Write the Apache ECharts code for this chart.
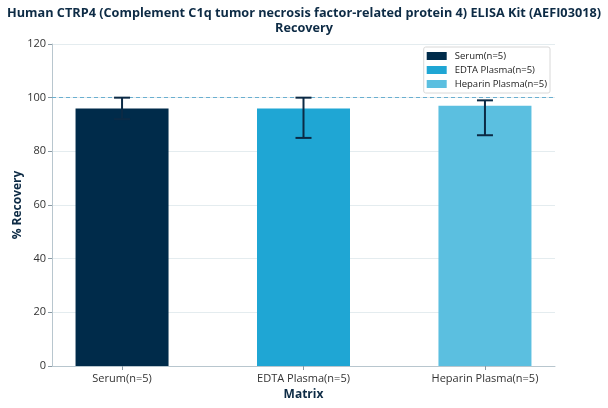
<!DOCTYPE html>
<html>
<head>
<meta charset="utf-8">
<script src="https://cdn.jsdelivr.net/npm/echarts@6/dist/echarts.min.js"></script>
<style>html,body{margin:0;padding:0;background:#fff}#c{width:608px;height:408px}</style>
</head>
<body>
<div id="c"></div>
<script>
const categories = ['Serum(n=5)', 'EDTA Plasma(n=5)', 'Heparin Plasma(n=5)'];
const recovery = [96, 96, 97];
const errLow = [92, 85, 86];
const errHigh = [100, 100, 99];
const referenceLine = 100;
const colors = ['#002b4a', '#1fa6d4', '#5bbfe0'];
const yTicks = [0, 20, 40, 60, 80, 100, 120];

const FONT = 'Open Sans';
const X_MIN = -0.386, X_MAX = 2.386;
const chart = echarts.init(document.getElementById('c'));

const barSeries = categories.map((name, i) => ({
  name: name,
  type: 'bar',
  data: [[i, recovery[i]]],
  barWidth: 93,
  barGap: '-100%',
  itemStyle: { color: colors[i] },
  z: 2
}));

const errSeries = {
  type: 'custom',
  name: 'err',
  z: 5,
  data: categories.map((c, i) => [i, errLow[i], errHigh[i]]),
  encode: { x: 0, y: [1, 2] },
  renderItem: function (params, api) {
    const x = api.value(0);
    const lo = api.coord([x, api.value(1)]);
    const hi = api.coord([x, api.value(2)]);
    const hw = 8;
    const style = { stroke: '#0b2a45', lineWidth: 2, fill: null };
    return {
      type: 'group',
      children: [
        { type: 'line', shape: { x1: lo[0], y1: lo[1], x2: hi[0], y2: hi[1] }, style: style },
        { type: 'line', shape: { x1: hi[0] - hw, y1: hi[1], x2: hi[0] + hw, y2: hi[1] }, style: style },
        { type: 'line', shape: { x1: lo[0] - hw, y1: lo[1], x2: lo[0] + hw, y2: lo[1] }, style: style }
      ]
    };
  },
  markLine: {
    silent: true,
    symbol: 'none',
    label: { show: false },
    lineStyle: { color: '#6aafd0', type: [4, 3], width: 1 },
    data: [[{ coord: [X_MIN, referenceLine] }, { coord: [X_MAX, referenceLine] }]]
  }
};

chart.setOption({
  animation: false,
  textStyle: { fontFamily: FONT },
  title: {
    text: 'Human CTRP4 (Complement C1q tumor necrosis factor-related protein 4) ELISA Kit (AEFI03018)\nRecovery',
    left: 'center',
    top: 1,
    textStyle: { fontFamily: FONT, fontSize: 12.7, fontWeight: 'bold', color: '#0d2b45', lineHeight: 15 }
  },
  legend: {
    data: categories,
    orient: 'vertical',
    right: 58,
    top: 47,
    icon: 'rect',
    itemWidth: 20,
    itemHeight: 8,
    itemGap: 4,
    padding: [4, 3, 4, 3],
    borderColor: '#d8d8d8',
    borderWidth: 1,
    borderRadius: 2,
    backgroundColor: '#fff',
    textStyle: { fontFamily: FONT, fontSize: 9.5, color: '#222', padding: [0, 0, 0, 3] }
  },
  grid: { left: 52, right: 53, top: 44, bottom: 42, containLabel: false, outerBoundsMode: 'none' },
  xAxis: {
    type: 'value',
    min: X_MIN,
    max: X_MAX,
    name: 'Matrix',
    nameLocation: 'middle',
    nameGap: 23,
    nameMoveOverlap: false,
    nameTextStyle: { fontFamily: FONT, fontSize: 12, fontWeight: 'bold', color: '#0d2b45' },
    axisLine: { show: true, onZero: false, lineStyle: { color: '#b8c6ce' } },
    axisTick: { show: true, customValues: [0, 1, 2], length: 4, lineStyle: { color: '#8a9aa4' } },
    axisLabel: {
      customValues: [0, 1, 2],
      formatter: v => categories[Math.round(v)],
      fontSize: 11, color: '#333', margin: 7
    },
    splitLine: { show: false }
  },
  yAxis: {
    type: 'value',
    min: 0,
    max: 120,
    interval: 20,
    name: '% Recovery',
    nameLocation: 'middle',
    nameGap: 28,
    nameMoveOverlap: false,
    nameTextStyle: { fontFamily: FONT, fontSize: 12, fontWeight: 'bold', color: '#0d2b45' },
    axisLine: { show: true, onZero: false, lineStyle: { color: '#b8c6ce' } },
    axisTick: { show: true, length: 4, lineStyle: { color: '#8a9aa4' } },
    axisLabel: { fontSize: 11, color: '#333', margin: 6, formatter: v => yTicks.includes(v) ? String(v) : '' },
    splitLine: { show: true, lineStyle: { color: '#e4ecef', width: 1 } }
  },
  series: [...barSeries, errSeries]
});
</script>
</body>
</html>
